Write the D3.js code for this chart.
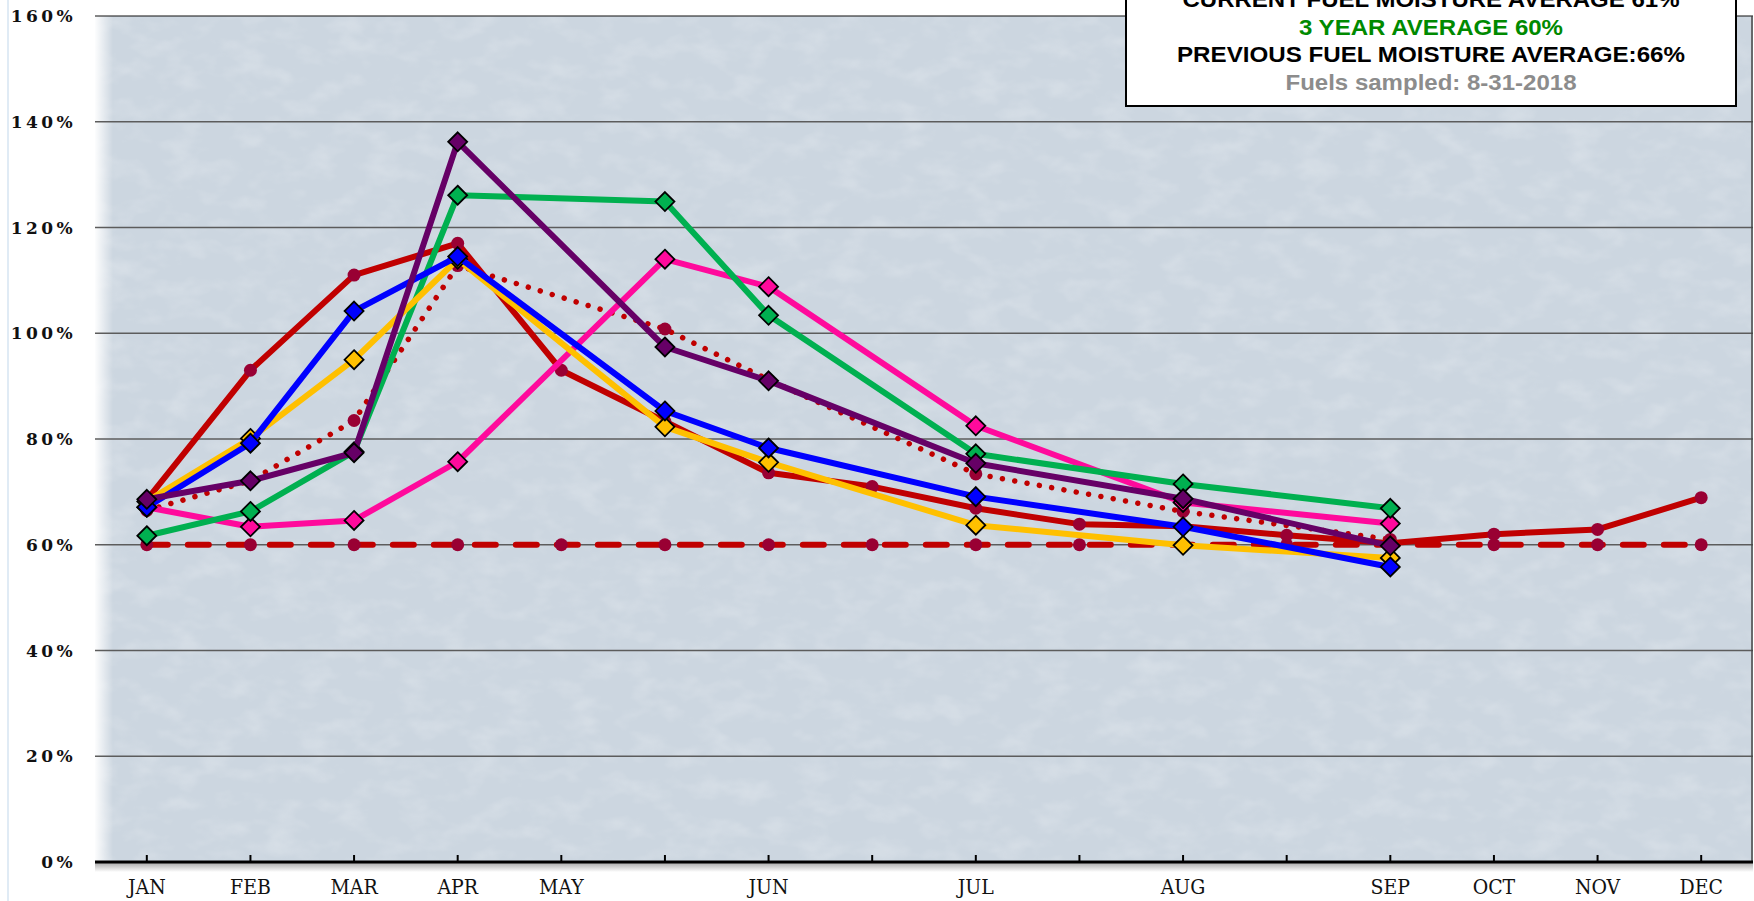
<!DOCTYPE html>
<html lang="en">
<head>
  <meta charset="UTF-8">
  <title>Fuel Moisture</title>
  <script src="https://cdn.jsdelivr.net/npm/d3@7/dist/d3.min.js"></script>
  <style>
    body { margin: 0; background: #ffffff; }
    svg { display: block; }
    .ylab { font-family: "DejaVu Serif", serif; font-size: 17px; font-weight: 600; letter-spacing: 3.4px; fill: #111; }
    .xlab { font-family: "DejaVu Serif Condensed", "DejaVu Serif", serif; font-size: 21px; fill: #111; }
    .note { font-family: "Liberation Sans", Arial, sans-serif; font-weight: bold; font-size: 22px; }
  </style>
</head>
<body>
<script>
  // month slots along the bottom (blank slots are mid-month samples)
  var months = ["JAN","FEB","MAR","APR","MAY","","JUN","","JUL","","AUG","","SEP","OCT","NOV","DEC"];
  var yTicks = [0, 20, 40, 60, 80, 100, 120, 140, 160];

  // values in percent, null where there is no sample
  var currentYear   = [68.5, 93, 111, 117, 93, 83.3, 73.6, 71, 66.9, 63.9, 63.5, 61.8, 60.3, 62, 62.9, 68.9];
  var threshold     = [60, 60, 60, 60, 60, 60, 60, 60, 60, 60, 60, 60, 60, 60, 60, 60];
  var threeYearAvg  = [66.5, 72.1, 83.5, 112.8, null, 100.8, 91.2, null, 73.4, null, 66.3, null, 61, null, null, null];
  var site1 = [61.7, 66.3, 77.6, 126.1, null, 124.9, 103.4, null, 77.2, null, 71.5, null, 66.9, null, null, null];
  var site2 = [67.1, 63.4, 64.6, 75.7, null, 114.0, 108.8, null, 82.5, null, 68.0, null, 64.0, null, null, null];
  var site3 = [68.2, 80.1, 95.0, 114.0, null, 82.3, 75.6, null, 63.7, null, 59.9, null, 57.5, null, null, null];
  var site4 = [67.1, 79.2, 104.2, 114.5, null, 85.3, 78.3, null, 69.1, null, 63.4, null, 55.8, null, null, null];
  var site5 = [68.6, 72.1, 77.4, 136.2, null, 97.4, 91.0, null, 75.4, null, 68.7, null, 59.8, null, null, null];

  var noteLines = ["CURRENT FUEL MOISTURE AVERAGE 61%", "3 YEAR AVERAGE 60%",
                   "PREVIOUS FUEL MOISTURE AVERAGE:66%", "Fuels sampled: 8-31-2018"];

  var width = 1754, height = 901;
  var margin = {top: 16, right: 1, bottom: 39, left: 95};

  var svg = d3.select("body").append("svg")
    .attr("width", width)
    .attr("height", height);

  var defs = svg.append("defs");

  // paper-like texture for the plot area
  var paper = defs.append("filter").attr("id", "paper")
    .attr("x", 0).attr("y", 0).attr("width", 1).attr("height", 1);
  paper.append("feTurbulence").attr("type", "fractalNoise")
    .attr("baseFrequency", "0.03 0.05").attr("numOctaves", 3).attr("seed", 7);
  paper.append("feColorMatrix").attr("type", "matrix")
    .attr("values", "0 0 0 0 1  0 0 0 0 1  0 0 0 0 1  0.9 0 0 0 -0.4");

  var fade = defs.append("linearGradient").attr("id", "fade");
  fade.append("stop").attr("offset", 0).attr("stop-color", "#fff").attr("stop-opacity", 0.95);
  fade.append("stop").attr("offset", 1).attr("stop-color", "#fff").attr("stop-opacity", 0);

  var shadow = defs.append("linearGradient").attr("id", "shadow")
    .attr("x1", 0).attr("x2", 0).attr("y1", 0).attr("y2", 1);
  shadow.append("stop").attr("offset", 0).attr("stop-color", "#777").attr("stop-opacity", 0.6);
  shadow.append("stop").attr("offset", 1).attr("stop-color", "#777").attr("stop-opacity", 0);

  var x = d3.scaleBand()
    .domain(d3.range(months.length))
    .range([margin.left, width - margin.right]);

  var y = d3.scaleLinear()
    .domain([0, 160])
    .range([height - margin.bottom, margin.top]);

  function cx(d, i) { return x(i) + x.bandwidth() / 2; }

  // faint line at the far left
  svg.append("line")
    .attr("x1", 8).attr("x2", 8).attr("y1", 0).attr("y2", height)
    .attr("stroke", "#d6e4f2").attr("stroke-width", 1.5);

  // plot background
  svg.append("rect")
    .attr("x", margin.left).attr("y", y(160))
    .attr("width", width - margin.right - margin.left).attr("height", y(0) - y(160))
    .attr("fill", "#ccd6e0");
  svg.append("rect")
    .attr("x", margin.left).attr("y", y(160))
    .attr("width", width - margin.right - margin.left).attr("height", y(0) - y(160))
    .attr("filter", "url(#paper)").attr("opacity", 0.5);
  svg.append("rect")
    .attr("x", margin.left).attr("y", y(160))
    .attr("width", 18).attr("height", y(0) - y(160))
    .attr("fill", "url(#fade)");

  // gridlines
  svg.append("g").selectAll("line")
    .data(yTicks.filter(function(t){ return t > 0; }))
    .enter().append("line")
    .attr("x1", margin.left).attr("x2", width - margin.right)
    .attr("y1", function(d){ return y(d); }).attr("y2", function(d){ return y(d); })
    .attr("stroke", function(d){ return d == 160 ? "#111" : "#5c5c5c"; })
    .attr("stroke-width", function(d){ return d == 160 ? 1.2 : 1.6; });

  // right border
  svg.append("line")
    .attr("x1", width - margin.right - 1).attr("x2", width - margin.right - 1)
    .attr("y1", y(160)).attr("y2", y(0))
    .attr("stroke", "#444").attr("stroke-width", 1.5);

  // y labels
  svg.append("g").selectAll("text")
    .data(yTicks)
    .enter().append("text")
    .attr("class", "ylab")
    .attr("x", 76)
    .attr("y", function(d){ return y(d); })
    .attr("dy", "0.36em")
    .attr("text-anchor", "end")
    .text(function(d){ return d + "%"; });

  // x axis with shadow and inward ticks
  svg.append("rect")
    .attr("x", margin.left).attr("y", y(0) + 1)
    .attr("width", width - margin.right - margin.left).attr("height", 9)
    .attr("fill", "url(#shadow)");
  svg.append("line")
    .attr("x1", margin.left).attr("x2", width - margin.right)
    .attr("y1", y(0)).attr("y2", y(0))
    .attr("stroke", "#000").attr("stroke-width", 3);
  svg.append("g").selectAll("line")
    .data(months)
    .enter().append("line")
    .attr("x1", cx).attr("x2", cx)
    .attr("y1", y(0)).attr("y2", y(0) - 7)
    .attr("stroke", "#000").attr("stroke-width", 2);
  svg.append("g").selectAll("text")
    .data(months)
    .enter().append("text")
    .attr("class", "xlab")
    .attr("x", cx)
    .attr("y", 894)
    .attr("text-anchor", "middle")
    .text(function(d){ return d; });

  // series, drawn bottom to top
  var series = [
    {values: threshold,    color: "#c00000", dash: "21 20", cap: "round", marker: "circle"},
    {values: threeYearAvg, color: "#c00000", dash: "0.01 12.5", cap: "round", marker: "circle"},
    {values: currentYear,  color: "#c00000", dash: null, cap: "butt", marker: "circle"},
    {values: site2, color: "#ff0a9c", dash: null, cap: "butt", marker: "diamond"},
    {values: site1, color: "#00b050", dash: null, cap: "butt", marker: "diamond"},
    {values: site3, color: "#ffc000", dash: null, cap: "butt", marker: "diamond"},
    {values: site4, color: "#0000ff", dash: null, cap: "butt", marker: "diamond"},
    {values: site5, color: "#660066", dash: null, cap: "butt", marker: "diamond"}
  ];

  var line = d3.line()
    .defined(function(d){ return d.v != null; })
    .x(function(d){ return x(d.i) + x.bandwidth() / 2; })
    .y(function(d){ return y(d.v); });

  var diamond = "M0,-9.5L9.5,0L0,9.5L-9.5,0Z";

  series.forEach(function(s) {
    var pts = s.values.map(function(v, i){ return {i: i, v: v}; })
                      .filter(function(d){ return d.v != null; });
    var g = svg.append("g");

    g.append("path")
      .datum(pts)
      .attr("d", line)
      .attr("fill", "none")
      .attr("stroke", s.color)
      .attr("stroke-width", s.dash == "0.01 12.5" ? 5.5 : 6)
      .attr("stroke-linejoin", "round")
      .attr("stroke-linecap", s.cap)
      .attr("stroke-dasharray", s.dash);

    if (s.marker == "circle") {
      g.selectAll("circle").data(pts).enter().append("circle")
        .attr("cx", function(d){ return x(d.i) + x.bandwidth() / 2; })
        .attr("cy", function(d){ return y(d.v); })
        .attr("r", 6.5)
        .attr("fill", "#990033");
    } else {
      g.selectAll("path.mk").data(pts).enter().append("path")
        .attr("class", "mk")
        .attr("d", diamond)
        .attr("transform", function(d){ return "translate(" + (x(d.i) + x.bandwidth() / 2) + "," + y(d.v) + ")"; })
        .attr("fill", s.color)
        .attr("stroke", "#000")
        .attr("stroke-width", 1.8);
    }
  });

  // note box in the top right corner
  var note = svg.append("g");
  note.append("rect")
    .attr("x", 1126).attr("y", -10)
    .attr("width", 610).attr("height", 116)
    .attr("fill", "#fff")
    .attr("stroke", "#000")
    .attr("stroke-width", 2);

  var noteColors = ["#000", "#008a00", "#000", "#8c8c8c"];
  var noteWidths = [497, 264, 508, 291];
  note.selectAll("text")
    .data(noteLines)
    .enter().append("text")
    .attr("class", "note")
    .attr("x", 1431)
    .attr("y", function(d, i){ return 7 + i * 27.5; })
    .attr("text-anchor", "middle")
    .attr("fill", function(d, i){ return noteColors[i]; })
    .attr("textLength", function(d, i){ return noteWidths[i]; })
    .attr("lengthAdjust", "spacingAndGlyphs")
    .text(function(d){ return d; });
</script>
</body>
</html>
